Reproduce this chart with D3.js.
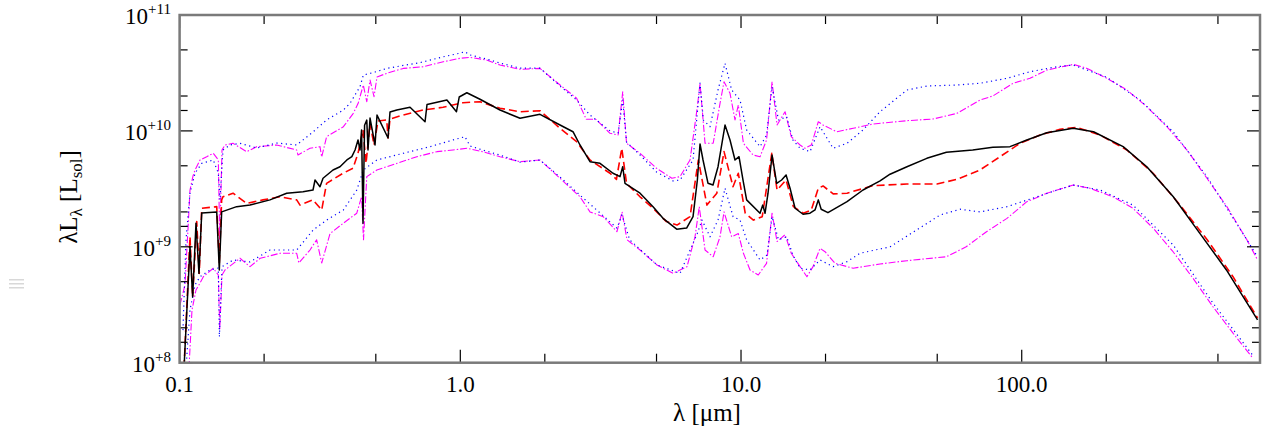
<!DOCTYPE html>
<html><head><meta charset="utf-8">
<script src="https://cdn.jsdelivr.net/npm/d3@7"></script>
<style>
html,body{margin:0;padding:0;background:#fff;}
svg text{font-family:"Liberation Serif","DejaVu Serif","Times New Roman",serif;}
</style></head>
<body>
<svg id="chart" width="1271" height="434"></svg>
<script>
// ---- data (wavelength in micron, luminosity in L_sol) ----
const blackLam = [0.1037,0.1089,0.1113,0.1144,0.1172,0.1199,0.1356,0.1385,0.1412,0.1597,0.1782,0.2099,0.2407,0.2752,0.2987,0.3037,0.3163,0.3243,0.352,0.3727,0.3944,0.4108,0.4217,0.4321,0.4393,0.4449,0.4502,0.456,0.4643,0.469,0.4769,0.4968,0.505,0.5528,0.5617,0.594,0.662,0.7488,0.761,0.896,0.969,0.991,1.055,1.175,1.385,1.632,1.9225,2.266,2.52,2.669,2.897,3.145,3.499,3.706,3.789,3.861,4.368,4.86,5.274,5.9,6.4,6.746,6.99,7.144,7.322,7.629,7.948,8.281,8.77,9.137,9.519,9.837,10.165,10.47,11.688,11.95,12.18,12.48,12.9,13.4,13.95,14.47,14.95,15.58,16.63,17.61,18.35,18.85,19.3,20.4,23.86,27.2,31.28,33.95,39.0,45.9,53.9,66.9,78.9,90.8,104.3,122.8,152.6,180.2,229.8,279,346.7,431.7,536,692];
const blackL = [9e7,1.0e9,3.7e8,1.60e9,5.9e8,1.96e9,2.0e9,6.3e8,2.0e9,2.22e9,2.29e9,2.54e9,2.90e9,2.99e9,3.09e9,3.77e9,3.30e9,3.90e9,4.60e9,4.91e9,5.61e9,5.99e9,6.84e9,8.35e9,6.84e9,1.02e10,1.60e9,1.12e10,1.24e10,6.84e9,1.29e10,7.56e9,1.37e10,8.68e9,1.455e10,1.515e10,1.598e10,1.20e10,1.689e10,1.847e10,1.464e10,1.96e10,2.135e10,1.874e10,1.515e10,1.284e10,1.391e10,1.124e10,9.84e9,7.56e9,5.42e9,5.25e9,4.31e9,4.03e9,4.91e9,3.53e9,2.90e9,2.22e9,1.76e9,1.42e9,1.45e9,1.82e9,3.77e9,7.71e9,5.61e9,3.53e9,3.41e9,4.91e9,1.124e10,8.35e9,5.61e9,5.99e9,3.77e9,2.54e9,1.95e9,2.29e9,1.95e9,2.90e9,6.19e9,3.53e9,3.77e9,4.17e9,3.20e9,2.15e9,1.91e9,1.95e9,2.08e9,2.54e9,2.11e9,1.97e9,2.45e9,3.09e9,3.70e9,4.23e9,4.91e9,5.80e9,6.54e9,6.84e9,7.22e9,7.31e9,8.35e9,9.65e9,1.053e10,9.84e9,7.31e9,4.91e9,2.70e9,1.30e9,6.31e8,2.34e8];

const redLam = [0.1037,0.1089,0.1113,0.1151,0.1175,0.1199,0.1356,0.1385,0.1412,0.1427,0.155,0.1734,0.1982,0.2279,0.2613,0.2685,0.2987,0.3208,0.3339,0.382,0.4148,0.4321,0.4502,0.4615,0.4769,0.4927,0.5091,0.547,0.5528,0.5617,0.6251,0.7365,0.8679,1.0224,1.175,1.385,1.632,1.9225,2.266,2.596,2.897,3.415,3.6,3.76,3.91,4.368,4.86,5.42,5.916,6.582,7.046,7.56,8.2,8.699,9.364,9.78,10.35,11.07,11.9,12.87,13.44,14.47,15.36,16.67,17.8,18.85,19.6,21.3,23.86,29.5,39.0,49.9,58.8,71.0,83.7,98.6,116.2,136.9,157,190.1,237,293.8,366.4,457.8,565.8,692];
const redL = [9e7,1.22e9,3.7e8,1.65e9,5.9e8,2.15e9,2.22e9,7.2e8,2.54e9,2.70e9,2.90e9,2.37e9,2.54e9,2.70e9,2.54e9,2.29e9,2.54e9,2.08e9,3.53e9,4.31e9,4.76e9,6.41e9,1.02e10,5.25e9,1.163e10,7.56e9,1.217e10,1.242e10,8.68e9,1.266e10,1.371e10,1.515e10,1.598e10,1.751e10,1.786e10,1.567e10,1.464e10,1.493e10,1.053e10,8.07e9,5.61e9,4.31e9,3.82e9,7.08e9,3.53e9,2.70e9,2.15e9,1.65e9,1.54e9,1.82e9,5.61e9,2.29e9,2.90e9,6.62e9,3.30e9,4.31e9,1.95e9,1.70e9,1.82e9,6.41e9,3.09e9,3.77e9,2.22e9,1.95e9,2.08e9,3.20e9,3.35e9,2.86e9,2.90e9,3.37e9,3.48e9,3.48e9,3.82e9,4.60e9,5.99e9,7.82e9,9.22e9,1.032e10,1.074e10,9.22e9,6.84e9,4.31e9,2.29e9,1.15e9,5.52e8,2.43e8];

const magUpLam = [0.1003,0.1045,0.1071,0.1089,0.1116,0.1135,0.1182,0.1249,0.1318,0.1374,0.139,0.1416,0.1451,0.1549,0.1734,0.1882,0.2216,0.2613,0.2641,0.2914,0.3163,0.3208,0.3339,0.3833,0.4156,0.4326,0.4513,0.4643,0.4769,0.4927,0.505,0.547,0.6265,0.738,0.8693,0.998,1.083,1.24,1.385,1.632,1.9225,2.266,2.596,2.81,3.04,3.415,3.65,3.789,3.91,4.368,5.0,5.67,6.064,6.582,6.99,7.144,7.444,7.96,8.418,8.699,9.137,9.519,9.78,10.2,11.04,11.69,12.33,12.9,13.44,14.35,15.1,16.23,16.9,17.8,18.85,19.6,21.93,25.1,29.5,39.0,48.3,58.8,71.0,78.9,93.1,107,122.8,152.6,171,201,237,279,329,388,457,538,634,692];
const magUpL = [3.15e8,4.68e8,1.40e9,3.09e9,4.08e9,4.60e9,5.61e9,5.99e9,6.41e9,5.61e9,1.15e9,6.84e9,7.56e9,7.82e9,6.62e9,7.31e9,7.56e9,6.84e9,6.19e9,7.08e9,7.31e9,5.95e9,8.91e9,1.087e10,1.418e10,1.73e10,2.489e10,1.786e10,2.749e10,1.972e10,2.917e10,3.14e10,3.46e10,3.58e10,3.95e10,4.23e10,4.31e10,4.09e10,3.70e10,3.40e10,3.46e10,2.489e10,1.911e10,1.259e10,1.259e10,9.53e9,9.22e9,2.178e10,7.82e9,6.41e9,4.76e9,3.90e9,4.03e9,5.61e9,1.617e10,2.575e10,7.82e9,7.82e9,1.73e10,2.655e10,2.11e10,1.242e10,1.673e10,7.82e9,6.19e9,5.99e9,8.35e9,2.655e10,1.124e10,1.464e10,8.91e9,7.56e9,7.08e9,7.56e9,1.20e10,1.124e10,9.84e9,1.053e10,1.147e10,1.225e10,1.266e10,1.418e10,1.847e10,2.0e10,2.575e10,2.843e10,3.35e10,3.75e10,3.46e10,2.843e10,2.254e10,1.617e10,1.087e10,6.84e9,3.90e9,2.22e9,1.15e9,7.70e8];

const blueUpLam = [0.1028,0.1054,0.1089,0.1135,0.1199,0.1318,0.1374,0.1393,0.1427,0.1512,0.1641,0.1882,0.2216,0.2613,0.2994,0.3339,0.3833,0.4047,0.4393,0.4513,0.4968,0.547,0.6265,0.7187,0.8693,0.969,1.039,1.083,1.24,1.385,1.632,1.9225,2.266,2.596,2.897,3.415,3.65,3.789,3.91,4.368,5.0,5.73,6.064,6.746,7.144,7.34,7.755,8.28,8.77,9.26,9.918,10.47,11.69,12.33,12.9,13.6,14.54,15.3,16.23,17.61,19.12,21.28,23.86,27.2,31.28,39.0,45.98,58.8,71.0,88.6,107,133.6,152.6,201,264,346,457,692];
const blueUpL = [1.91e8,1.15e9,2.90e9,4.31e9,5.25e9,5.61e9,4.31e9,2.54e9,6.84e9,7.56e9,7.82e9,7.12e9,7.86e9,7.56e9,9.84e9,1.242e10,1.515e10,1.73e10,2.41e10,3.03e10,3.22e10,3.46e10,3.67e10,3.88e10,4.36e10,4.61e10,4.82e10,4.52e10,4.17e10,3.85e10,3.48e10,3.48e10,2.44e10,1.847e10,1.371e10,1.0e10,9.59e9,1.847e10,8.02e9,6.19e9,4.42e9,3.70e9,3.77e9,5.61e9,2.59e10,1.242e10,1.087e10,2.254e10,3.83e10,2.254e10,1.847e10,1.02e10,7.31e9,9.22e9,2.41e10,1.242e10,1.326e10,8.35e9,7.08e9,6.62e9,1.087e10,7.08e9,7.82e9,1.02e10,1.464e10,2.254e10,2.44e10,2.489e10,2.575e10,2.843e10,3.24e10,3.58e10,3.70e10,2.9e10,1.847e10,9.84e9,4.03e9,8.2e8];

const magLoLam = [0.108,0.1107,0.1144,0.1182,0.1215,0.1318,0.1374,0.139,0.1416,0.1451,0.1641,0.1782,0.1936,0.2279,0.2613,0.266,0.2914,0.3077,0.3208,0.3434,0.3833,0.4277,0.4449,0.452,0.4643,0.5042,0.5951,0.7,0.826,0.9419,1.0566,1.2,1.385,1.632,1.9225,2.266,2.669,2.897,3.23,3.615,3.77,3.925,4.368,5.02,5.725,6.42,6.857,7.1,7.444,7.96,8.418,8.699,9.26,9.78,10.2,10.767,11.52,12.33,12.9,13.44,14.35,15.1,16.23,17.17,18.05,19.12,19.92,21.63,25.07,31.28,39.0,53.9,63.4,74.9,88.6,104.3,122.8,152.6,175,211.4,249,293.8,346,407.6,480,565.8,666.8];
const magLoL = [9e7,2.85e8,4.24e8,4.87e8,5.52e8,6.53e8,5.71e8,1.91e8,5.71e8,6.31e8,7.96e8,6.74e8,7.96e8,8.79e8,8.79e8,7.25e8,9.38e8,1.15e9,7.25e8,1.30e9,1.60e9,1.95e9,2.70e9,1.15e9,4.03e9,4.60e9,5.25e9,5.99e9,6.62e9,6.84e9,7.08e9,6.62e9,5.99e9,5.42e9,5.61e9,3.90e9,2.70e9,2.0e9,1.82e9,1.35e9,2.0e9,1.15e9,9.38e8,6.97e8,5.9e8,6.74e8,1.22e9,2.22e9,9.38e8,8.21e8,1.22e9,2.0e9,1.22e9,1.30e9,8.79e8,6.31e8,5.71e8,7.2e8,1.95e9,1.11e9,1.27e9,8.79e8,6.74e8,5.52e8,6.74e8,9.71e8,9.07e8,7.2e8,6.53e8,7.11e8,7.59e8,8.21e8,1.0e9,1.35e9,1.76e9,2.45e9,2.90e9,3.41e9,3.20e9,2.70e9,2.15e9,1.45e9,9.07e8,5.35e8,3.04e8,1.80e8,1.09e8];

const blueLoLam = [0.1054,0.1089,0.1135,0.1182,0.1283,0.1374,0.1386,0.1416,0.1553,0.1782,0.2099,0.2613,0.2994,0.3339,0.3833,0.4277,0.4513,0.5042,0.6265,0.78,0.9419,1.039,1.083,1.2,1.385,1.632,1.9225,2.266,2.669,3.145,3.615,3.767,4.01,5.02,6.064,6.99,7.26,7.755,8.28,8.77,9.37,9.918,10.47,11.69,12.38,12.9,13.6,14.54,15.3,16.23,17.61,19.12,21.28,23.86,26.54,33.95,42.3,51.16,60.29,71.04,88.6,109.7,133.6,152.6,190.1,249,346,480,666.8];
const blueLoL = [9e7,2.85e8,4.68e8,5.52e8,6.31e8,6.56e8,1.67e8,6.74e8,7.70e8,7.40e8,9.38e8,9.38e8,1.40e9,1.70e9,2.08e9,3.09e9,4.60e9,5.61e9,6.41e9,7.31e9,8.35e9,8.91e9,7.41e9,6.84e9,6.19e9,5.38e9,5.61e9,4.0e9,2.79e9,1.96e9,1.45e9,1.88e9,1.15e9,6.97e8,5.9e8,1.31e9,1.70e9,1.22e9,1.70e9,3.20e9,1.82e9,1.70e9,1.15e9,7.70e8,8.50e8,1.82e9,1.15e9,1.22e9,8.50e8,6.53e8,6.31e8,7.70e8,6.74e8,7.44e8,8.79e8,1.0e9,1.40e9,1.88e9,2.11e9,2.0e9,2.22e9,2.63e9,3.09e9,3.41e9,3.09e9,2.29e9,1.04e9,3.27e8,1.15e8];

const xMajorTicks = [0.1, 1, 10, 100];
const xTickLabels = ["0.1", "1.0", "10.0", "100.0"];
const xMinorTicks = [0.2, 0.5, 2, 5, 20, 50, 200, 500];
const yMajorExps = [8, 9, 10, 11];
const yMinorFactors = [1.5, 2, 5];

// ---- layout ----
const FONT = "'Liberation Serif', 'DejaVu Serif', 'Times New Roman', serif";
const L = 179.6, R = 1260, T = 15, B = 362.7;
const svg = d3.select("#chart");
const x = d3.scaleLog().domain([0.1, 706]).range([L, R]);
const y = d3.scaleLog().domain([1e8, 1e11]).range([B, T]);

svg.append("defs").append("clipPath").attr("id", "clip")
  .append("rect").attr("x", L).attr("y", T).attr("width", R - L).attr("height", B - T);

const series = [
  {lam: magLoLam, val: magLoL, color: "#ff00ff", dash: "7,2,1.5,2", w: 1.1},
  {lam: magUpLam, val: magUpL, color: "#ff00ff", dash: "7,2,1.5,2", w: 1.1},
  {lam: blueLoLam, val: blueLoL, color: "#0000ff", dash: "1.2,3.5", w: 1.2},
  {lam: blueUpLam, val: blueUpL, color: "#0000ff", dash: "1.2,3.5", w: 1.2},
  {lam: redLam, val: redL, color: "#ff0000", dash: "8,4", w: 1.6},
  {lam: blackLam, val: blackL, color: "#000000", dash: null, w: 1.5}
];

const line = d3.line().x(d => x(d[0])).y(d => y(d[1]));
const plot = svg.append("g").attr("clip-path", "url(#clip)");
series.forEach(s => {
  const pts = d3.zip(s.lam, s.val).filter(p => p[0] != null && p[1] != null);
  plot.append("path").datum(pts)
    .attr("d", line)
    .attr("fill", "none")
    .attr("stroke", s.color)
    .attr("stroke-width", s.w)
    .attr("stroke-linejoin", "round")
    .attr("stroke-dasharray", s.dash);
});

// ---- ticks (inward, mirrored) ----
const tk = svg.append("g").attr("stroke", "#000").attr("stroke-width", 1.2);
xMajorTicks.forEach(v => {
  tk.append("line").attr("x1", x(v)).attr("x2", x(v)).attr("y1", B).attr("y2", B - 13);
  tk.append("line").attr("x1", x(v)).attr("x2", x(v)).attr("y1", T).attr("y2", T + 13);
});
xMinorTicks.forEach(v => {
  tk.append("line").attr("x1", x(v)).attr("x2", x(v)).attr("y1", B).attr("y2", B - 9);
  tk.append("line").attr("x1", x(v)).attr("x2", x(v)).attr("y1", T).attr("y2", T + 9);
});
yMajorExps.forEach(e => {
  const v = Math.pow(10, e);
  tk.append("line").attr("x1", L).attr("x2", L + 13).attr("y1", y(v)).attr("y2", y(v));
  tk.append("line").attr("x1", R).attr("x2", R - 13).attr("y1", y(v)).attr("y2", y(v));
  if (e < 11) yMinorFactors.forEach(f => {
    const vv = f * v;
    tk.append("line").attr("x1", L).attr("x2", L + 8).attr("y1", y(vv)).attr("y2", y(vv));
    tk.append("line").attr("x1", R).attr("x2", R - 8).attr("y1", y(vv)).attr("y2", y(vv));
  });
});

// frame
svg.append("rect").attr("x", L).attr("y", T).attr("width", R - L).attr("height", B - T)
  .attr("fill", "none").attr("stroke", "#7a7a7a").attr("stroke-width", 2.5);

// ---- tick labels ----
xMajorTicks.forEach((v, i) => {
  svg.append("text").attr("x", x(v)).attr("y", 392).attr("text-anchor", "middle")
    .attr("font-family", FONT).attr("font-size", 23).attr("fill", "#000").text(xTickLabels[i]);
});
yMajorExps.forEach(e => {
  const t = svg.append("text").attr("x", 171).attr("y", y(Math.pow(10, e)) + 9)
    .attr("text-anchor", "end").attr("font-family", FONT).attr("font-size", 23).attr("fill", "#000");
  t.append("tspan").text("10");
  t.append("tspan").attr("dy", -10).attr("font-size", 15).text("+" + e);
});

// ---- axis titles ----
svg.append("text").attr("x", 707).attr("y", 421).attr("text-anchor", "middle")
  .attr("font-family", FONT).attr("font-size", 25).attr("fill", "#000").text("λ [μm]");

const yt = svg.append("text").attr("transform", "translate(77,197) rotate(-90)")
  .attr("text-anchor", "middle").attr("font-family", FONT).attr("font-size", 25).attr("fill", "#000");
yt.append("tspan").text("λL");
yt.append("tspan").attr("dy", 5).attr("font-size", 17).text("λ");
yt.append("tspan").attr("dy", -5).text(" [L");
yt.append("tspan").attr("dy", 5).attr("font-size", 17).text("sol");
yt.append("tspan").attr("dy", -5).text("]");

// small grey mark at far left
const gm = svg.append("g").attr("fill", "#d8d8d8");
[[9,279],[9,283],[9,287]].forEach(p => {
  gm.append("rect").attr("x", p[0]).attr("y", p[1]).attr("width", 15).attr("height", 1.5);
});
</script>
</body></html>
